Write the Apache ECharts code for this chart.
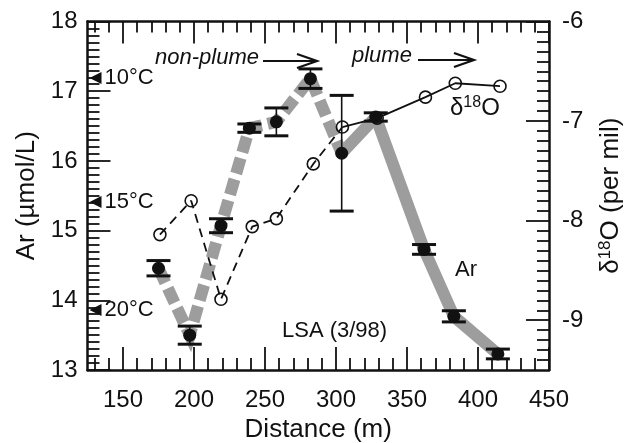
<!DOCTYPE html>
<html>
<head>
<meta charset="utf-8">
<script src="https://cdn.jsdelivr.net/npm/echarts@6/dist/echarts.min.js"></script>
<style>
html,body{margin:0;padding:0;background:#fff;}
#chart{width:624px;height:443px;}
</style>
</head>
<body>
<div id="chart"></div>
<script>
// ---- data ----
const arDistance = [175, 197, 219, 239, 258, 282, 304, 328, 362, 383, 414];
const arValues   = [14.46, 13.50, 15.07, 16.47, 16.56, 17.18, 16.11, 16.63, 14.73, 13.77, 13.23];
const arErrors   = [0.11, 0.13, 0.10, 0.06, 0.20, 0.14, 0.83, 0.06, 0.07, 0.08, 0.07];
const d18ODistance = [176, 198, 219, 241, 258, 284, 304.5, 329, 363, 384, 415.5];
const d18OValues   = [-8.14, -7.80, -8.79, -8.06, -7.98, -7.43, -7.06, -6.97, -6.76, -6.62, -6.65];
const plumeStartIndex = 6; // dashed (non-plume) up to this point, solid afterwards
const tempLabels = ['10°C', '15°C', '20°C'];
const tempAr     = [17.19, 15.41, 13.86];
const xMajorTicks = [150, 200, 250, 300, 350, 400, 450];
const arMajorTicks = [13, 14, 15, 16, 17, 18];
const d18OMajorTicks = [-9, -8, -7, -6];

// ---- helpers (tick positions only) ----
const xMinorTicks = [];
for (let v = 130; v < 450; v += 10) { if (v % 50 !== 0) xMinorTicks.push(v); }
const arMinorTicks = [];
for (let i = 131; i < 180; i++) { if (i % 10 !== 0) arMinorTicks.push(i / 10); }
const d18OMinorTicks = [];
for (let i = -94; i <= -61; i++) { if (i % 10 !== 0) d18OMinorTicks.push(i / 10); }

const FONT = "'Liberation Sans', Arial, Helvetica, sans-serif";
const BLACK = '#111';
const tickStyle = { color: BLACK, width: 1.8 };
const axisLineStyle = { show: true, lineStyle: { color: BLACK, width: 2.5 } };

const arPairs = arDistance.map((d, i) => [d, arValues[i]]);
const d18OPairs = d18ODistance.map((d, i) => [d, d18OValues[i]]);
const errData = arDistance.map((d, i) => [d, arValues[i] - arErrors[i], arValues[i] + arErrors[i]]);
const tempData = tempAr.map((v, i) => ({ value: [125, v], label: { formatter: tempLabels[i] } }));

const chart = echarts.init(document.getElementById('chart'), null, { renderer: 'canvas' });

function xAxisDef(pos, values, len, showLine, showLabel, extra) {
  return Object.assign({
    type: 'value', position: pos, min: 125, max: 450,
    axisLine: showLine ? axisLineStyle : { show: false },
    axisTick: { show: true, inside: true, length: len, customValues: values, lineStyle: tickStyle },
    axisLabel: showLabel ? { show: true, customValues: values, fontSize: 24, color: BLACK, fontFamily: FONT, margin: 18 } : { show: false },
    splitLine: { show: false }
  }, extra || {});
}
function yAxisDef(pos, min, max, values, len, showLine, showLabel, margin, extra) {
  return Object.assign({
    type: 'value', position: pos, min: min, max: max,
    axisLine: showLine ? axisLineStyle : { show: false },
    axisTick: { show: true, inside: true, length: len, customValues: values, lineStyle: tickStyle },
    axisLabel: showLabel ? { show: true, customValues: values, fontSize: 24, color: BLACK, fontFamily: FONT, margin: margin } : { show: false },
    splitLine: { show: false }
  }, extra || {});
}

const option = {
  animation: false,
  backgroundColor: '#fff',
  grid: { left: 87.5, right: 75, top: 21.5, bottom: 73, containLabel: false, outerBoundsMode: 'none' },
  xAxis: [
    xAxisDef('bottom', xMajorTicks, 23, true, true, {
      name: 'Distance (m)', nameLocation: 'middle', nameGap: 44,
      nameTextStyle: { fontSize: 26, color: BLACK, fontFamily: FONT }
    }),
    xAxisDef('bottom', xMinorTicks, 12, false, false),
    xAxisDef('top', xMajorTicks, 22, true, false),
    xAxisDef('top', xMinorTicks, 11, false, false)
  ],
  yAxis: [
    yAxisDef('left', 13, 18, arMajorTicks, 23, true, true, 10, {
      name: 'Ar (µmol/L)', nameLocation: 'middle', nameGap: 47, nameRotate: 90,
      nameTextStyle: { fontSize: 26, color: BLACK, fontFamily: FONT }
    }),
    yAxisDef('right', -9.5, -6, d18OMajorTicks, 23, true, true, 13, {
      name: '{a|δ}{b|18}{a|O (per mil)}', nameLocation: 'middle', nameGap: 48, nameRotate: 90,
      nameTextStyle: {
        color: BLACK, fontFamily: FONT, fontSize: 26,
        rich: {
          a: { fontSize: 26, color: BLACK, fontFamily: FONT },
          b: { fontSize: 17, color: BLACK, fontFamily: FONT, padding: [0, 0, 11, 0] }
        }
      }
    }),
    yAxisDef('right', -9.5, -6, d18OMinorTicks, 12, false, false, 0),
    yAxisDef('left', 13, 18, arMinorTicks, 12, false, false, 0)
  ],
  series: [
    // Ar gray band: dashed (non-plume) part
    {
      type: 'line', xAxisIndex: 0, yAxisIndex: 0, symbol: 'none', silent: true, z: 1,
      data: arPairs.slice(0, plumeStartIndex + 1),
      lineStyle: { color: '#9d9d9d', width: 12, type: [16, 6], cap: 'butt', join: 'miter' }
    },
    // Ar gray band: solid (plume) part
    {
      type: 'line', xAxisIndex: 0, yAxisIndex: 0, symbol: 'none', silent: true, z: 1,
      data: arPairs.slice(plumeStartIndex),
      lineStyle: { color: '#9d9d9d', width: 12, type: 'solid', cap: 'butt', join: 'round' }
    },
    // d18O dashed part
    {
      type: 'line', xAxisIndex: 0, yAxisIndex: 1, symbol: 'none', z: 2,
      data: d18OPairs.slice(0, plumeStartIndex + 1),
      lineStyle: { color: BLACK, width: 1.8, type: [9, 6] }
    },
    // d18O solid part
    {
      type: 'line', xAxisIndex: 0, yAxisIndex: 1, symbol: 'none', z: 2,
      data: d18OPairs.slice(plumeStartIndex),
      lineStyle: { color: BLACK, width: 1.8, type: 'solid' }
    },
    // d18O open circles
    {
      type: 'scatter', xAxisIndex: 0, yAxisIndex: 1, z: 3,
      data: d18OPairs, symbol: 'circle', symbolSize: 12,
      itemStyle: { color: 'rgba(255,255,255,0)', borderColor: BLACK, borderWidth: 1.6, opacity: 1 }
    },
    // Ar error bars
    {
      type: 'custom', xAxisIndex: 0, yAxisIndex: 0, z: 4,
      data: errData,
      renderItem: function (params, api) {
        const lo = api.coord([api.value(0), api.value(1)]);
        const hi = api.coord([api.value(0), api.value(2)]);
        const hw = 12;
        return {
          type: 'group',
          children: [
            { type: 'line', shape: { x1: lo[0], y1: lo[1], x2: hi[0], y2: hi[1] }, style: { stroke: BLACK, lineWidth: 1.6 } },
            { type: 'line', shape: { x1: lo[0] - hw, y1: lo[1], x2: lo[0] + hw, y2: lo[1] }, style: { stroke: BLACK, lineWidth: 3 } },
            { type: 'line', shape: { x1: hi[0] - hw, y1: hi[1], x2: hi[0] + hw, y2: hi[1] }, style: { stroke: BLACK, lineWidth: 3 } }
          ]
        };
      }
    },
    // Ar filled circles
    {
      type: 'scatter', xAxisIndex: 0, yAxisIndex: 0, z: 5,
      data: arPairs, symbol: 'circle', symbolSize: 13,
      itemStyle: { color: BLACK, opacity: 1 }
    },
    // saturation temperature markers
    {
      type: 'scatter', xAxisIndex: 0, yAxisIndex: 0, z: 6,
      data: tempData, symbol: 'triangle', symbolRotate: 90, symbolSize: [12, 12], symbolOffset: [8, 0],
      itemStyle: { color: BLACK, opacity: 1 },
      label: { show: true, position: 'right', distance: 3, fontSize: 22, color: BLACK, fontFamily: FONT }
    }
  ],
  graphic: [
    { type: 'text', left: 155, top: 47, style: { text: 'non-plume', font: 'italic 22px ' + FONT, fill: BLACK } },
    { type: 'polyline', shape: { points: [[263, 61], [316, 61]] }, style: { stroke: BLACK, lineWidth: 2.2 } },
    { type: 'polyline', shape: { points: [[297, 54], [317, 61], [297, 68]] }, style: { stroke: BLACK, lineWidth: 2.2, fill: null } },
    { type: 'text', left: 352, top: 45, style: { text: 'plume', font: 'italic 22px ' + FONT, fill: BLACK } },
    { type: 'polyline', shape: { points: [[418, 60], [473, 60]] }, style: { stroke: BLACK, lineWidth: 2.2 } },
    { type: 'polyline', shape: { points: [[454, 53], [474, 60], [454, 67]] }, style: { stroke: BLACK, lineWidth: 2.2, fill: null } },
    {
      type: 'text', left: 450, top: 95,
      style: {
        text: '{a|δ}{b|18}{a|O}',
        rich: {
          a: { fontSize: 24, fill: BLACK, fontFamily: FONT },
          b: { fontSize: 16, fill: BLACK, fontFamily: FONT, padding: [0, 0, 10, 0] }
        }
      }
    },
    { type: 'text', left: 455, top: 259, style: { text: 'Ar', font: '22px ' + FONT, fill: BLACK } },
    { type: 'text', left: 282, top: 320, style: { text: 'LSA (3/98)', font: '22px ' + FONT, fill: BLACK } }
  ]
};
chart.setOption(option);
</script>
</body>
</html>
